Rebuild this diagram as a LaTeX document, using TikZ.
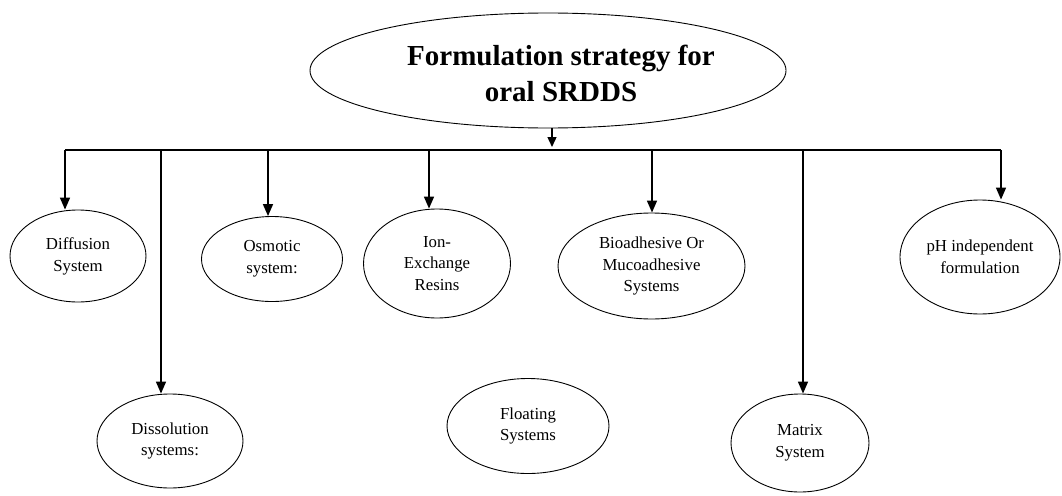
\documentclass[tikz,border=0pt]{standalone}
\usepackage{fontspec}
\setmainfont{Liberation Serif}
\usetikzlibrary{shapes.geometric,arrows.meta}
\begin{document}
\begin{tikzpicture}[x=1pt,y=-1pt,
 oval/.style={draw, ellipse, inner sep=0pt, align=center, font=\fontsize{16.8}{21.8}\selectfont, line width=0.9pt},
 bus/.style={line width=1.1pt},
 arr/.style={line width=1.6pt, -{Triangle[length=12pt,width=10pt]}},
 arrsmall/.style={line width=1.4pt, -{Triangle[length=10pt,width=9pt]}},
]
\useasboundingbox (0,0) rectangle (1062,495);
\node[draw, ellipse, line width=0.9pt, minimum width=476pt, minimum height=115pt] (top) at (548,70.5) {};
\node[font=\fontsize{29}{36}\selectfont\bfseries, align=center, inner sep=0pt] (title) at (561,73) {Formulation strategy for\\oral SRDDS};

\node[oval, minimum width=136pt, minimum height=92pt] (diff) at (78,256) {Diffusion\\System};
\node[oval, minimum width=141pt, minimum height=85pt] (osm) at (272,259) {Osmotic\\system:};
\node[oval, minimum width=147pt, minimum height=109pt] (ion) at (437,263.5) {Ion-\\Exchange\\Resins};
\node[oval, minimum width=187pt, minimum height=106pt] (bio) at (651.5,266) {Bioadhesive Or\\Mucoadhesive\\Systems};
\node[oval, minimum width=160pt, minimum height=114pt] (ph) at (980,257) {pH independent\\formulation};
\node[oval, minimum width=146pt, minimum height=94pt] (diss) at (170,441) {Dissolution\\systems:};
\node[oval, minimum width=162pt, minimum height=95pt] (float) at (528,426) {Floating\\Systems};
\node[oval, minimum width=138pt, minimum height=98pt] (mat) at (800,443) {Matrix\\System};

\coordinate (b1) at (65,150);
\coordinate (b2) at (161,150);
\coordinate (b3) at (268,150);
\coordinate (b4) at (429,150);
\coordinate (b5) at (652,150);
\coordinate (b6) at (803,150);
\coordinate (b7) at (1001,150);
\coordinate (tin) at (552,147);

\draw[bus] (b1) -- (b7);
\draw[arrsmall] (tin |- top.south) -- (tin);
\draw[arr] (b1) -- (b1 |- diff.north);
\draw[arr] (b2) -- (b2 |- diss.north);
\draw[arr] (b3) -- (b3 |- osm.north);
\draw[arr] (b4) -- (b4 |- ion.north);
\draw[arr] (b5) -- (b5 |- bio.north);
\draw[arr] (b6) -- (b6 |- mat.north);
\draw[arr] (b7) -- (b7 |- ph.north);
\end{tikzpicture}
\end{document}
